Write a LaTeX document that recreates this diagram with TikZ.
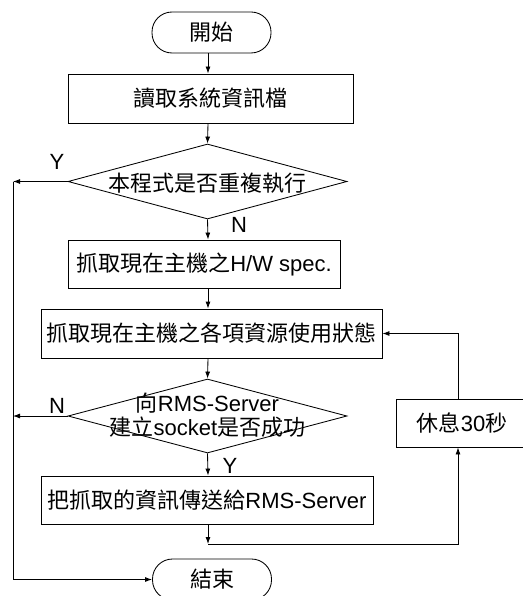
\documentclass[tikz,border=0pt]{standalone}
\usepackage{fontspec}
\setmainfont{Liberation Sans}
\newfontfamily\cjk{Noto Sans CJK TC}
\usetikzlibrary{shapes.geometric,arrows.meta}
\begin{document}
\begin{tikzpicture}[x=1pt,y=-1pt,line width=0.85pt,
  >={Latex[length=7pt,width=5pt]},
  every node/.style={font=\fontsize{22}{21}\selectfont},
  term/.style={draw,rectangle,rounded corners=20pt,minimum width=119pt,minimum height=41pt,inner sep=0pt},
  proc/.style={draw,rectangle,inner sep=0pt},
  dec/.style={draw,diamond,inner sep=0pt,minimum width=279pt},
  txt/.style={inner sep=0pt,align=center},
  lbl/.style={inner sep=0pt}]
\useasboundingbox (0,0) rectangle (522,596);
\fill[white] (0,0) rectangle (522,596);

\coordinate (cx) at (208,0);
\coordinate (lx) at (13,0);
\coordinate (rx) at (458,0);

\node[term] (start) at (211.5,32.5) {\cjk 開始};
\node[proc,minimum width=285pt,minimum height=49pt] (read) at (210.5,98.5) {\cjk 讀取系統資訊檔};
\node[dec,minimum height=75pt] (d1) at (207.5,181.5) {};
\node[txt] (d1t) at (207.5,183) {\cjk 本程式是否重複執行};
\node[proc,minimum width=272pt,minimum height=48pt] (hw) at (204,264) {{\cjk 抓取現在主機之}H/W spec.};
\node[proc,minimum width=341pt,minimum height=49pt] (res) at (211.5,333.5) {\cjk 抓取現在主機之各項資源使用狀態};
\node[dec,minimum height=74pt] (d2) at (207.5,416) {};
\node[txt,font=\fontsize{22}{24}\selectfont] (d2t) at (207.5,415) {{\cjk 向}RMS-Server\\{\cjk 建立}socket{\cjk 是否成功}};
\node[proc,minimum width=132pt,minimum height=48pt] (rest) at (462,423) {{\cjk 休息}30{\cjk 秒}};
\node[proc,minimum width=332pt,minimum height=48pt] (send) at (207,500) {{\cjk 把抓取的資訊傳送給}RMS-Server};
\node[term] (end) at (212,579.5) {\cjk 結束};

\node[lbl] (y1) at (57,162) {Y};
\node[lbl] (n1) at (239,225) {N};
\node[lbl] (n2) at (57,406) {N};
\node[lbl] (y2) at (230,466) {Y};

\coordinate (j) at (208,544);

\draw[->] (start.south -| cx) -- (read.north -| cx);
\draw[->] (read.south -| cx) -- (d1.north);
\draw[->] (d1.south) -- (hw.north -| cx);
\draw[->] (hw.south -| cx) -- (res.north -| cx);
\draw[->] (res.south -| cx) -- (d2.north);
\draw[->] (d2.south) -- (send.north -| cx);
\draw[->] (send.south -| cx) -- (j);
\draw[->] (j) -| (rest.south -| rx);
\draw[->] (rest.north -| rx) |- (res.east);
\draw[->] (d1.west) -- (d1.west -| lx);
\draw[->] (d2.west) -- (d2.west -| lx);
\draw[->] (d1.west -| lx) -- (end.west -| lx) -- (end.west);
\end{tikzpicture}
\end{document}
